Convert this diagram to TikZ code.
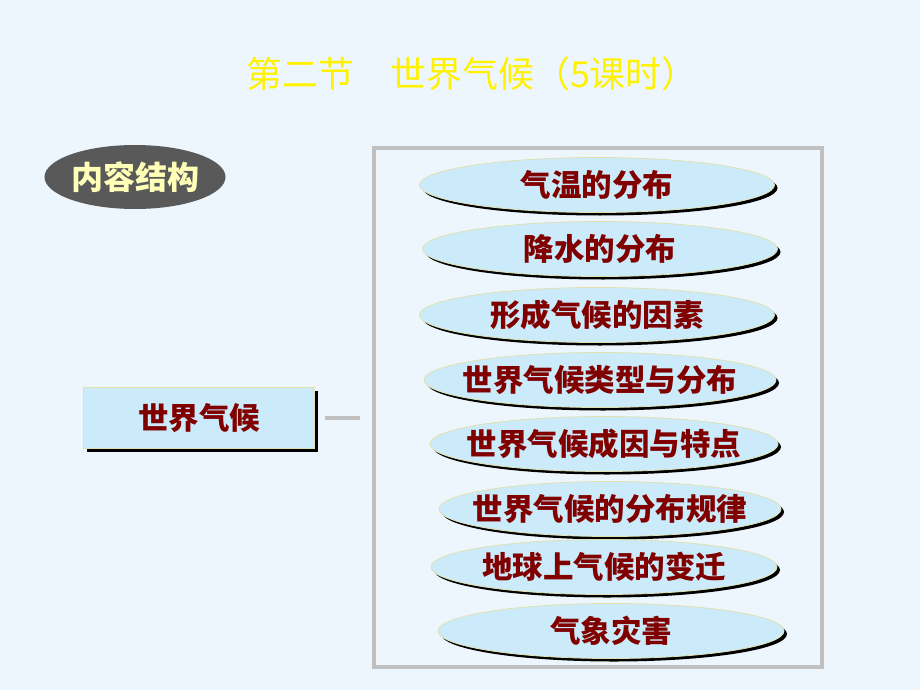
\documentclass[tikz,border=0pt]{standalone}
\usepackage{fontspec}
\setmainfont{Liberation Sans}
\newfontfamily\cjk{Noto Sans CJK SC}
\usetikzlibrary{shadows,shapes.geometric}
\definecolor{bgblue}{HTML}{EEF6FD}
\definecolor{paleblue}{HTML}{CCEBFA}
\definecolor{darkred}{HTML}{800000}
\definecolor{rimcol}{HTML}{E0E0B0}
\definecolor{framegray}{HTML}{C0C0C0}
\definecolor{capyellow}{HTML}{FFFFB8}
\tikzset{
  topic/.style={ellipse, draw=rimcol, line width=0.8, fill=paleblue,
    minimum width=355, minimum height=55, inner xsep=-20pt, inner ysep=0,
    drop shadow={shadow xshift=3pt, shadow yshift=-3pt, fill=black, opacity=1},
    font=\cjk\bfseries\fontsize{30.5}{32}\selectfont, text=darkred},
}
\begin{document}
\begin{tikzpicture}[x=1pt,y=-1pt]
		\fill[bgblue] (0,0) rectangle (920,690);
		\useasboundingbox (0,0) rectangle (920,690);
		% title
		\node[text=yellow, font=\cjk\fontsize{36}{38}\selectfont] (title) at (472,74) {第二节\quad 世界气候（5课时）};
		% label
		\node[ellipse, fill=black!65, minimum width=174, minimum height=64, inner sep=0,
			text=capyellow, font=\cjk\bfseries\fontsize{32}{34}\selectfont] (label) at (135,177) {内容结构};
		% main box
		\node[draw=rimcol, fill=paleblue, minimum width=231, minimum height=61, inner sep=0,
			drop shadow={shadow xshift=3pt, shadow yshift=-3pt, fill=black, opacity=1},
			font=\cjk\bfseries\fontsize{30.5}{32}\selectfont, text=darkred] (world) at (199,418) {世界气候};
		\draw[framegray, line width=4] (374,148) rectangle (822,667);
		\draw[framegray, line width=4] ([xshift=10]world.east) -- ([xshift=45]world.east);
		% topics
		\node[topic] (t1) at (597,185) {气温的分布};
		\node[topic] (t2) at (600,249) {降水的分布};
		\node[topic] (t3) at (597,315) {形成气候的因素};
		\node[topic, minimum width=352] (t4) at (600,380) {世界气候类型与分布};
		\node[topic, minimum width=348] (t5) at (604,444) {世界气候成因与特点};
		\node[topic, minimum width=342] (t6) at (610,509) {世界气候的分布规律};
		\node[topic, minimum width=346] (t7) at (604,567) {地球上气候的变迁};
		\node[topic, minimum width=346] (t8) at (611,631) {气象灾害};
	\end{tikzpicture}
\end{document}
